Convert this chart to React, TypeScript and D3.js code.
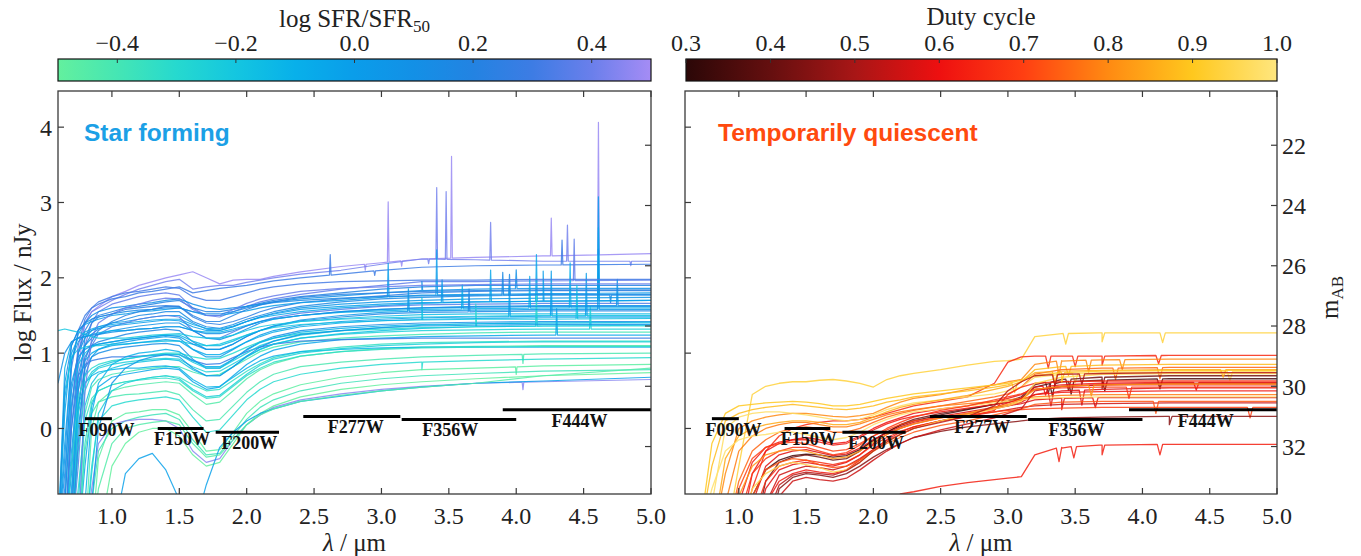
import React from "react";
import * as d3 from "d3";

// ---------------- data ----------------
const X_TICKS = [1.0, 1.5, 2.0, 2.5, 3.0, 3.5, 4.0, 4.5, 5.0];
const Y_TICKS = [0, 1, 2, 3, 4];
const MAB_TICKS = [22, 24, 26, 28, 30, 32];
const AB_ZERO = 31.4;
const SFR_TICKS = [-0.4, -0.2, 0.0, 0.2, 0.4];
const DUTY_TICKS = [0.3, 0.4, 0.5, 0.6, 0.7, 0.8, 0.9, 1.0];

const SFR_STOPS = [-0.5, -0.4, -0.3, -0.2, -0.1, 0.0, 0.1, 0.2, 0.3, 0.4, 0.5];
const SFR_STOP_COLORS = ["#63F09E", "#45E6B4", "#26D9CF", "#14C6E0", "#08B0EA", "#0A9DEA", "#1390E6", "#2383E2", "#3D7CE4", "#6A7FEB", "#A58CF5"];
const DUTY_STOPS = [0.3, 0.4, 0.5, 0.6, 0.7, 0.8, 0.9, 1.0];
const DUTY_STOP_COLORS = ["#2B0707", "#650F0F", "#A81616", "#EE1010", "#FF3F12", "#FF8A12", "#FFC81E", "#FFE67E"];

const FILTER_NAMES = ["F090W", "F150W", "F200W", "F277W", "F356W", "F444W"];
const FILTER_LO = [0.80, 1.34, 1.77, 2.42, 3.15, 3.90];
const FILTER_HI = [1.00, 1.68, 2.24, 3.14, 4.00, 5.00];
const FILTER_DEPTH = [0.13, 0.0, -0.05, 0.16, 0.12, 0.25];
const FILTER_LABEL_X = [0.96, 1.52, 2.02, 2.81, 3.51, 4.47];

// Star-forming spectra: log flux on LEFT_WAVE, coloured by log SFR/SFR50
const LEFT_WAVE = [0.60, 0.65, 0.70, 0.75, 0.80, 0.85, 0.90, 1.00, 1.10, 1.20, 1.30, 1.40, 1.50, 1.60, 1.70, 1.80, 1.90, 2.00, 2.10, 2.20, 2.40, 2.70, 3.00, 3.30, 3.70, 4.20, 5.00];
const SF_SFR = [0.48, 0.42, 0.30, 0.38, 0.20, 0.10, 0.25, 0.00, 0.15, 0.05, -0.05, 0.35, 0.08, -0.10, 0.18, -0.15, 0.00, -0.20, 0.12, -0.30, -0.25, -0.40, -0.05, 0.28, -0.35, -0.45, -0.12, -0.42, -0.30, -0.48, -0.38, 0.45, -0.50, -0.02, -0.22, -0.18, 0.02, -0.08, 0.22, 0.40, -0.20, 0.10, -0.33, -0.45, 0.00, 0.32, -0.10, 0.15, -0.25, 0.05];
const SF_FLUX = [
  [-1.5, -1.5, -1.0, 0.8, 1.4, 1.55, 1.62, 1.75, 1.82, 1.9, 1.95, 2.0, 2.04, 2.08, 2.0, 1.92, 1.97, 1.98, 1.98, 2.02, 2.08, 2.15, 2.2, 2.25, 2.27, 2.29, 2.32],
  [-1.5, -1.5, -0.5, 1.0, 1.4, 1.55, 1.6, 1.7, 1.78, 1.85, 1.9, 1.95, 1.98, 1.85, 1.88, 1.9, 1.9, 1.94, 1.97, 2.0, 2.05, 2.1, 2.18, 2.25, 2.24, 2.22, 2.22],
  [-1.5, -0.8, 0.8, 1.3, 1.5, 1.6, 1.65, 1.72, 1.75, 1.8, 1.82, 1.85, 1.88, 1.8, 1.83, 1.86, 1.88, 1.9, 1.93, 1.96, 2.0, 2.05, 2.1, 2.14, 2.16, 2.17, 2.18],
  [-1.5, -1.5, -1.5, 0.2, 1.1, 1.4, 1.55, 1.65, 1.7, 1.75, 1.78, 1.8, 1.77, 1.6, 1.5, 1.48, 1.55, 1.62, 1.68, 1.72, 1.78, 1.85, 1.9, 1.95, 1.95, 1.96, 1.97],
  [-1.5, -1.0, 0.3, 1.0, 1.3, 1.45, 1.5, 1.55, 1.6, 1.62, 1.65, 1.68, 1.7, 1.6, 1.55, 1.55, 1.58, 1.62, 1.66, 1.7, 1.75, 1.8, 1.85, 1.88, 1.9, 1.9, 1.9],
  [-1.5, -0.4, 0.9, 1.25, 1.4, 1.5, 1.55, 1.6, 1.62, 1.65, 1.67, 1.7, 1.72, 1.65, 1.6, 1.58, 1.6, 1.62, 1.65, 1.68, 1.72, 1.76, 1.8, 1.83, 1.85, 1.86, 1.86],
  [-1.5, -1.5, -1.2, 0.5, 1.2, 1.4, 1.48, 1.52, 1.58, 1.6, 1.62, 1.63, 1.62, 1.48, 1.4, 1.38, 1.42, 1.48, 1.55, 1.6, 1.67, 1.72, 1.76, 1.8, 1.82, 1.83, 1.83],
  [-1.5, 0.2, 1.1, 1.3, 1.38, 1.42, 1.45, 1.5, 1.52, 1.55, 1.56, 1.58, 1.6, 1.55, 1.5, 1.5, 1.53, 1.56, 1.6, 1.63, 1.67, 1.7, 1.74, 1.77, 1.78, 1.79, 1.8],
  [-1.5, -1.5, -0.6, 0.7, 1.1, 1.25, 1.32, 1.4, 1.45, 1.5, 1.52, 1.55, 1.55, 1.42, 1.35, 1.33, 1.38, 1.45, 1.5, 1.55, 1.62, 1.68, 1.72, 1.74, 1.76, 1.77, 1.77],
  [-1.5, -1.0, 0.5, 1.0, 1.2, 1.3, 1.35, 1.4, 1.42, 1.45, 1.48, 1.5, 1.5, 1.4, 1.32, 1.3, 1.35, 1.42, 1.48, 1.53, 1.6, 1.65, 1.68, 1.7, 1.72, 1.73, 1.74],
  [-1.5, 0.4, 1.0, 1.2, 1.28, 1.32, 1.35, 1.38, 1.4, 1.42, 1.44, 1.45, 1.45, 1.38, 1.33, 1.32, 1.36, 1.42, 1.47, 1.5, 1.55, 1.6, 1.63, 1.66, 1.68, 1.69, 1.7],
  [-1.5, -1.5, -1.5, -0.5, 0.8, 1.1, 1.25, 1.35, 1.4, 1.45, 1.48, 1.5, 1.48, 1.3, 1.2, 1.2, 1.28, 1.36, 1.42, 1.47, 1.53, 1.58, 1.62, 1.64, 1.65, 1.66, 1.66],
  [-1.5, -1.5, 0.0, 0.9, 1.1, 1.2, 1.25, 1.3, 1.33, 1.36, 1.38, 1.4, 1.4, 1.3, 1.2, 1.18, 1.24, 1.32, 1.4, 1.45, 1.5, 1.55, 1.58, 1.6, 1.62, 1.63, 1.63],
  [-1.5, 0.8, 1.15, 1.2, 1.22, 1.25, 1.27, 1.3, 1.3, 1.32, 1.33, 1.35, 1.35, 1.3, 1.28, 1.28, 1.32, 1.37, 1.42, 1.45, 1.5, 1.54, 1.56, 1.58, 1.59, 1.6, 1.6],
  [-1.5, -1.5, -0.9, 0.5, 0.95, 1.1, 1.15, 1.2, 1.25, 1.28, 1.3, 1.32, 1.3, 1.15, 1.05, 1.05, 1.12, 1.22, 1.3, 1.36, 1.43, 1.48, 1.52, 1.54, 1.55, 1.56, 1.56],
  [-1.5, -1.5, 0.3, 0.85, 1.0, 1.08, 1.12, 1.15, 1.18, 1.2, 1.22, 1.24, 1.24, 1.16, 1.1, 1.1, 1.16, 1.24, 1.3, 1.35, 1.42, 1.46, 1.49, 1.51, 1.52, 1.52, 1.52],
  [-1.5, -1.5, -1.5, 0.0, 0.7, 0.95, 1.05, 1.12, 1.15, 1.18, 1.2, 1.22, 1.2, 1.05, 0.95, 0.95, 1.05, 1.15, 1.24, 1.3, 1.37, 1.42, 1.45, 1.47, 1.48, 1.49, 1.49],
  [-1.5, 0.5, 0.95, 1.05, 1.08, 1.1, 1.1, 1.12, 1.12, 1.14, 1.15, 1.16, 1.16, 1.12, 1.1, 1.12, 1.18, 1.24, 1.3, 1.34, 1.38, 1.41, 1.43, 1.44, 1.45, 1.45, 1.46],
  [-1.5, -1.5, -1.2, 0.3, 0.8, 0.95, 1.0, 1.05, 1.08, 1.1, 1.12, 1.13, 1.1, 0.92, 0.8, 0.8, 0.92, 1.05, 1.15, 1.22, 1.3, 1.35, 1.38, 1.4, 1.41, 1.42, 1.42],
  [-1.5, -1.5, -0.5, 0.4, 0.7, 0.8, 0.85, 0.9, 0.92, 0.95, 0.98, 1.0, 1.0, 0.95, 0.92, 0.93, 1.0, 1.08, 1.15, 1.2, 1.26, 1.3, 1.32, 1.34, 1.35, 1.36, 1.36],
  [-1.5, -1.5, -1.5, -0.3, 0.5, 0.72, 0.8, 0.85, 0.88, 0.9, 0.92, 0.93, 0.92, 0.82, 0.75, 0.76, 0.86, 0.96, 1.05, 1.12, 1.2, 1.25, 1.28, 1.3, 1.31, 1.32, 1.32],
  [-1.5, -1.5, -1.5, -1.5, 0.2, 0.55, 0.65, 0.72, 0.75, 0.78, 0.8, 0.82, 0.82, 0.75, 0.7, 0.72, 0.82, 0.92, 1.02, 1.08, 1.15, 1.2, 1.23, 1.25, 1.27, 1.28, 1.28],
  [-1.5, -1.5, -1.5, -1.5, -0.5, 0.3, 0.55, 0.68, 0.72, 0.75, 0.78, 0.8, 0.78, 0.62, 0.52, 0.55, 0.7, 0.85, 0.96, 1.04, 1.12, 1.18, 1.2, 1.22, 1.23, 1.24, 1.24],
  [-1.5, -1.5, 0.0, 0.7, 0.85, 0.9, 0.92, 0.95, 0.95, 0.96, 0.97, 0.98, 0.98, 0.9, 0.85, 0.86, 0.94, 1.02, 1.08, 1.12, 1.16, 1.18, 1.19, 1.2, 1.2, 1.2, 1.2],
  [-1.5, -1.5, -1.5, -0.8, 0.1, 0.4, 0.5, 0.58, 0.62, 0.65, 0.68, 0.7, 0.68, 0.58, 0.5, 0.52, 0.64, 0.76, 0.86, 0.94, 1.02, 1.08, 1.12, 1.14, 1.15, 1.16, 1.16],
  [-1.5, -1.5, -1.5, -1.5, -1.5, 0.0, 0.35, 0.5, 0.55, 0.58, 0.6, 0.62, 0.6, 0.45, 0.32, 0.35, 0.5, 0.66, 0.78, 0.86, 0.96, 1.02, 1.06, 1.08, 1.09, 1.1, 1.1],
  [-1.5, -1.5, -0.8, 0.3, 0.6, 0.7, 0.75, 0.78, 0.8, 0.8, 0.82, 0.83, 0.8, 0.65, 0.55, 0.56, 0.68, 0.8, 0.9, 0.96, 1.02, 1.05, 1.07, 1.08, 1.08, 1.08, 1.08],
  [-1.5, -1.5, -1.5, -1.5, -0.3, 0.2, 0.35, 0.42, 0.45, 0.46, 0.48, 0.5, 0.45, 0.25, 0.1, 0.12, 0.3, 0.48, 0.62, 0.72, 0.82, 0.88, 0.92, 0.95, 0.97, 0.99, 1.0],
  [-1.5, -1.5, -1.5, -1.5, -1.5, -0.5, 0.1, 0.3, 0.35, 0.38, 0.4, 0.42, 0.38, 0.15, -0.05, -0.02, 0.18, 0.38, 0.52, 0.62, 0.72, 0.8, 0.85, 0.88, 0.9, 0.92, 0.94],
  [-1.5, -1.5, -1.5, -1.5, -1.5, -1.5, -0.4, 0.1, 0.2, 0.22, 0.25, 0.25, 0.18, -0.05, -0.3, -0.28, -0.05, 0.2, 0.36, 0.46, 0.58, 0.68, 0.74, 0.78, 0.8, 0.83, 0.85],
  [-1.5, -1.5, -1.5, -1.5, -1.5, -1.0, -0.3, 0.0, 0.1, 0.15, 0.18, 0.2, 0.12, -0.15, -0.35, -0.33, -0.1, 0.12, 0.28, 0.38, 0.5, 0.6, 0.66, 0.7, 0.73, 0.76, 0.78],
  [-1.5, -1.5, -1.5, -1.5, -1.5, -0.8, -0.2, 0.05, 0.1, 0.12, 0.12, 0.1, 0.0, -0.3, -0.45, -0.4, -0.15, 0.05, 0.18, 0.28, 0.38, 0.46, 0.52, 0.56, 0.6, 0.62, 0.65],
  [-1.5, -1.5, -1.5, -1.5, -1.5, -1.5, -1.5, -0.5, -0.2, -0.05, 0.0, 0.0, -0.1, -0.35, -0.5, -0.45, -0.2, 0.05, 0.2, 0.3, 0.42, 0.52, 0.58, 0.62, 0.66, 0.7, 0.74],
  [-1.5, -1.5, -1.5, -1.5, -1.5, -1.5, -1.5, -1.5, -0.6, -0.4, -0.33, -0.55, -0.95, -1.4, -0.75, -0.25, -0.05, 0.1, 0.2, 0.26, 0.36, 0.43, 0.5, 0.55, 0.6, 0.63, 0.68],
  [-1.5, -1.5, -1.5, 0.2, 0.6, 0.75, 0.82, 0.88, 0.92, 0.95, 0.97, 0.99, 0.98, 0.88, 0.8, 0.8, 0.9, 1.0, 1.1, 1.16, 1.24, 1.3, 1.34, 1.37, 1.39, 1.4, 1.41],
  [-1.5, -1.5, -1.5, -1.0, 0.3, 0.6, 0.72, 0.8, 0.85, 0.88, 0.9, 0.92, 0.9, 0.78, 0.7, 0.7, 0.82, 0.95, 1.05, 1.12, 1.2, 1.26, 1.3, 1.33, 1.35, 1.36, 1.37],
  [-1.5, -0.6, 0.6, 0.95, 1.05, 1.1, 1.12, 1.15, 1.18, 1.2, 1.22, 1.24, 1.22, 1.12, 1.05, 1.05, 1.12, 1.22, 1.3, 1.36, 1.44, 1.5, 1.54, 1.56, 1.57, 1.58, 1.58],
  [-1.5, -1.5, -0.3, 0.6, 0.9, 1.0, 1.05, 1.1, 1.12, 1.14, 1.16, 1.18, 1.16, 1.05, 0.98, 0.98, 1.06, 1.15, 1.22, 1.28, 1.35, 1.4, 1.43, 1.45, 1.46, 1.47, 1.47],
  [-1.5, -1.5, -1.5, -0.2, 0.9, 1.15, 1.3, 1.42, 1.5, 1.55, 1.58, 1.62, 1.62, 1.5, 1.42, 1.42, 1.5, 1.58, 1.64, 1.68, 1.74, 1.78, 1.8, 1.82, 1.83, 1.84, 1.84],
  [-1.5, -1.5, -1.5, -1.5, 0.5, 1.2, 1.4, 1.52, 1.6, 1.65, 1.7, 1.73, 1.72, 1.58, 1.5, 1.5, 1.58, 1.66, 1.72, 1.76, 1.82, 1.86, 1.88, 1.9, 1.91, 1.92, 1.92],
  [1.3, 1.32, 1.3, 1.28, 1.25, 1.22, 1.2, 1.2, 1.2, 1.22, 1.24, 1.25, 1.26, 1.22, 1.2, 1.2, 1.24, 1.3, 1.35, 1.38, 1.42, 1.45, 1.47, 1.48, 1.49, 1.5, 1.5],
  [0.6, 1.0, 1.15, 1.2, 1.22, 1.24, 1.25, 1.28, 1.3, 1.32, 1.33, 1.35, 1.35, 1.3, 1.26, 1.26, 1.3, 1.36, 1.42, 1.46, 1.5, 1.55, 1.58, 1.6, 1.61, 1.62, 1.62],
  [-1.5, -1.5, -1.5, -1.5, -0.2, 0.35, 0.5, 0.58, 0.62, 0.64, 0.66, 0.67, 0.64, 0.5, 0.4, 0.42, 0.56, 0.7, 0.8, 0.88, 0.96, 1.02, 1.05, 1.07, 1.08, 1.09, 1.09],
  [-1.5, -1.5, -1.5, -1.5, -1.5, -1.5, -0.8, -0.2, 0.0, 0.05, 0.08, 0.1, 0.05, -0.2, -0.38, -0.35, -0.15, 0.05, 0.18, 0.26, 0.36, 0.44, 0.5, 0.55, 0.6, 0.7, 0.8],
  [-1.5, -0.2, 0.9, 1.15, 1.25, 1.3, 1.33, 1.36, 1.38, 1.4, 1.42, 1.44, 1.43, 1.35, 1.3, 1.3, 1.35, 1.42, 1.48, 1.52, 1.58, 1.62, 1.65, 1.67, 1.68, 1.69, 1.7],
  [-1.5, -1.5, 0.2, 1.1, 1.45, 1.6, 1.68, 1.75, 1.8, 1.82, 1.85, 1.88, 1.86, 1.75, 1.7, 1.7, 1.75, 1.8, 1.85, 1.88, 1.92, 1.95, 1.96, 1.97, 1.97, 1.98, 1.98],
  [-1.5, -1.5, -1.5, -1.5, -1.0, 0.2, 0.6, 0.85, 0.95, 1.0, 1.02, 1.05, 1.02, 0.9, 0.82, 0.82, 0.92, 1.04, 1.14, 1.2, 1.28, 1.33, 1.36, 1.38, 1.39, 1.4, 1.4],
  [-1.5, 0.6, 1.1, 1.3, 1.4, 1.45, 1.48, 1.52, 1.55, 1.57, 1.58, 1.6, 1.6, 1.55, 1.52, 1.52, 1.55, 1.6, 1.64, 1.67, 1.7, 1.73, 1.75, 1.76, 1.77, 1.78, 1.78],
  [-1.5, -1.5, -1.5, -1.5, -1.5, -0.6, 0.2, 0.5, 0.6, 0.65, 0.68, 0.7, 0.66, 0.52, 0.42, 0.44, 0.58, 0.72, 0.84, 0.92, 1.0, 1.06, 1.1, 1.12, 1.14, 1.15, 1.15],
  [-1.5, -1.5, -1.5, -1.5, -1.5, -1.0, 0.0, 0.6, 0.8, 0.9, 0.95, 0.98, 0.95, 0.8, 0.7, 0.7, 0.82, 0.96, 1.08, 1.16, 1.25, 1.3, 1.34, 1.36, 1.37, 1.38, 1.38],
];
// narrow spectral features: [spectrum index, wavelength, height above (+) or below (-) continuum]
const SF_FEATURES = [
  [0, 3.05, 0.8], [0, 3.52, 1.35], [0, 4.26, 0.5], [0, 4.61, 1.76], [0, 2.88, -0.08], [0, 3.15, -0.07],
  [1, 3.41, 0.95], [1, 3.48, 0.9], [1, 3.81, 0.5], [1, 4.38, 0.48], [1, 3.35, -0.06], [1, 4.85, -0.06],
  [2, 2.62, 0.27], [2, 4.34, 0.33], [2, 2.95, -0.06],
  [7, 3.05, 0.45], [7, 3.41, 0.6], [7, 4.61, 1.28], [10, 3.81, 0.42], [10, 4.15, 0.62], [10, 4.61, 0.97],
  [13, 4.10, 0.42], [13, 4.40, 0.6], [13, 3.60, 0.32], [3, 4.43, 0.55], [16, 3.95, 0.42], [16, 4.52, 0.57],
  [16, 4.26, 0.6], [19, 4.15, 0.4], [19, 3.70, 0.3], [17, 4.45, 0.45], [17, 3.30, 0.3], [5, 3.30, 0.12],
  [5, 4.00, 0.25], [36, 4.61, 0.8], [36, 3.20, 0.3], [22, 4.30, 0.35], [8, 3.95, 0.28], [8, 4.70, -0.1],
  [27, 4.05, -0.12], [31, 4.05, -0.1], [28, 3.30, -0.1], [44, 3.45, 0.3], [44, 4.20, 0.4], [47, 3.90, 0.3],
  [12, 4.75, 0.35], [14, 3.65, 0.3], [20, 4.55, 0.3], [29, 4.00, -0.1],
];

// Temporarily quiescent spectra: log flux on RIGHT_WAVE, coloured by duty cycle
const RIGHT_WAVE = [0.70, 0.80, 0.90, 1.00, 1.10, 1.20, 1.30, 1.40, 1.50, 1.60, 1.70, 1.80, 1.90, 2.00, 2.10, 2.20, 2.30, 2.50, 2.70, 2.90, 3.00, 3.10, 3.20, 3.40, 3.70, 4.20, 5.00];
const TQ_DUTY = [0.93, 0.65, 0.80, 0.88, 0.75, 0.97, 0.42, 0.35, 0.60, 0.58, 0.62, 0.78, 0.58, 0.55, 0.70, 0.45, 0.63, 0.85, 0.66, 0.98, 0.68, 0.62, 0.73, 0.95, 0.90, 0.55, 0.82, 0.52];
const TQ_FLUX = [
  [-1.5, -1.5, -1.5, -0.5, 0.45, 0.56, 0.6, 0.62, 0.62, 0.64, 0.65, 0.63, 0.6, 0.55, 0.65, 0.7, 0.73, 0.78, 0.84, 0.89, 0.9, 0.92, 1.22, 1.26, 1.27, 1.27, 1.27],
  [-1.5, -1.5, -1.5, -1.5, -0.8, -0.3, -0.1, 0.0, 0.05, 0.08, 0.1, 0.1, 0.12, 0.15, 0.2, 0.25, 0.3, 0.36, 0.42, 0.6, 0.88, 0.95, 0.96, 0.96, 0.96, 0.97, 0.97],
  [-1.5, -1.5, -0.6, 0.0, 0.1, 0.15, 0.18, 0.2, 0.2, 0.18, 0.16, 0.15, 0.17, 0.2, 0.28, 0.35, 0.4, 0.45, 0.52, 0.58, 0.62, 0.65, 0.85, 0.9, 0.91, 0.92, 0.92],
  [-1.5, -0.5, 0.1, 0.2, 0.25, 0.28, 0.3, 0.32, 0.3, 0.28, 0.26, 0.25, 0.27, 0.3, 0.35, 0.38, 0.42, 0.46, 0.5, 0.55, 0.58, 0.62, 0.78, 0.82, 0.84, 0.85, 0.85],
  [-1.5, -1.5, -1.5, -0.7, -0.3, -0.15, -0.05, 0.0, 0.02, 0.0, -0.05, -0.05, 0.0, 0.08, 0.15, 0.2, 0.24, 0.3, 0.36, 0.42, 0.46, 0.55, 0.72, 0.78, 0.8, 0.81, 0.81],
  [-1.5, -1.0, 0.0, 0.15, 0.2, 0.22, 0.22, 0.2, 0.18, 0.15, 0.12, 0.1, 0.12, 0.18, 0.25, 0.3, 0.34, 0.38, 0.42, 0.46, 0.5, 0.55, 0.68, 0.72, 0.74, 0.75, 0.76],
  [-1.5, -1.5, -1.5, -1.5, -1.5, -0.7, -0.45, -0.38, -0.35, -0.38, -0.42, -0.4, -0.3, -0.15, -0.05, 0.05, 0.12, 0.2, 0.26, 0.32, 0.36, 0.42, 0.58, 0.65, 0.68, 0.7, 0.7],
  [-1.5, -1.5, -1.5, -1.5, -0.9, -0.55, -0.42, -0.36, -0.34, -0.35, -0.38, -0.36, -0.28, -0.16, -0.05, 0.04, 0.1, 0.18, 0.25, 0.32, 0.35, 0.4, 0.55, 0.62, 0.64, 0.66, 0.66],
  [-1.5, -1.5, -1.5, -1.5, -0.6, -0.3, -0.2, -0.15, -0.12, -0.15, -0.2, -0.18, -0.1, 0.0, 0.08, 0.14, 0.2, 0.26, 0.3, 0.36, 0.4, 0.45, 0.55, 0.58, 0.6, 0.61, 0.61],
  [-1.5, -1.5, -1.5, -1.5, -1.5, -0.8, -0.55, -0.48, -0.45, -0.48, -0.5, -0.45, -0.35, -0.2, -0.08, 0.0, 0.06, 0.14, 0.2, 0.26, 0.3, 0.35, 0.45, 0.5, 0.52, 0.54, 0.54],
  [-1.5, -1.5, -1.5, -1.0, -0.45, -0.25, -0.18, -0.15, -0.15, -0.18, -0.22, -0.2, -0.12, -0.02, 0.06, 0.12, 0.16, 0.22, 0.27, 0.32, 0.35, 0.38, 0.45, 0.48, 0.49, 0.5, 0.5],
  [-1.5, -1.5, -1.0, -0.3, -0.1, 0.0, 0.05, 0.08, 0.08, 0.05, 0.02, 0.02, 0.06, 0.12, 0.18, 0.22, 0.25, 0.3, 0.33, 0.36, 0.38, 0.4, 0.42, 0.44, 0.45, 0.45, 0.45],
  [-1.5, -1.5, -1.5, -1.5, -1.0, -0.5, -0.35, -0.3, -0.28, -0.32, -0.36, -0.34, -0.26, -0.15, -0.06, 0.02, 0.08, 0.16, 0.22, 0.28, 0.3, 0.33, 0.38, 0.4, 0.41, 0.41, 0.41],
  [-1.5, -1.5, -1.5, -1.5, -1.5, -1.0, -0.62, -0.55, -0.5, -0.52, -0.55, -0.5, -0.4, -0.28, -0.16, -0.08, 0.0, 0.1, 0.16, 0.22, 0.25, 0.28, 0.3, 0.32, 0.33, 0.34, 0.34],
  [-1.5, -1.5, -1.5, -0.8, -0.4, -0.25, -0.2, -0.18, -0.2, -0.25, -0.3, -0.28, -0.2, -0.1, -0.02, 0.05, 0.1, 0.15, 0.18, 0.22, 0.24, 0.25, 0.26, 0.27, 0.28, 0.28, 0.28],
  [-1.5, -1.5, -1.5, -1.5, -1.5, -1.5, -0.8, -0.65, -0.6, -0.62, -0.65, -0.6, -0.5, -0.38, -0.28, -0.2, -0.12, -0.04, 0.02, 0.06, 0.08, 0.1, 0.12, 0.14, 0.15, 0.16, 0.16],
  [-1.5, -1.5, -1.5, -1.5, -1.5, -1.5, -1.5, -1.5, -1.5, -1.5, -1.5, -1.5, -1.5, -1.5, -1.5, -0.87, -0.84, -0.77, -0.72, -0.68, -0.66, -0.64, -0.35, -0.25, -0.22, -0.21, -0.21],
  [-1.5, -1.5, -0.4, -0.1, 0.0, 0.05, 0.08, 0.1, 0.1, 0.08, 0.05, 0.05, 0.08, 0.15, 0.22, 0.28, 0.32, 0.38, 0.44, 0.52, 0.56, 0.62, 0.74, 0.76, 0.77, 0.78, 0.78],
  [-1.5, -1.5, -1.5, -1.5, -1.2, -0.7, -0.5, -0.45, -0.42, -0.45, -0.48, -0.44, -0.35, -0.22, -0.12, -0.04, 0.02, 0.1, 0.16, 0.24, 0.45, 0.55, 0.6, 0.62, 0.63, 0.63, 0.63],
  [-1.5, -0.8, -0.3, -0.15, -0.1, -0.08, -0.05, -0.05, -0.08, -0.12, -0.15, -0.12, -0.05, 0.05, 0.12, 0.18, 0.22, 0.26, 0.3, 0.34, 0.36, 0.38, 0.4, 0.41, 0.42, 0.42, 0.42],
  [-1.5, -1.5, -1.5, -1.2, -0.6, -0.4, -0.3, -0.25, -0.25, -0.3, -0.35, -0.32, -0.22, -0.1, 0.0, 0.08, 0.15, 0.24, 0.3, 0.38, 0.42, 0.46, 0.52, 0.54, 0.55, 0.55, 0.55],
  [-1.5, -1.5, -1.5, -1.5, -1.5, -1.0, -0.7, -0.6, -0.55, -0.58, -0.6, -0.55, -0.42, -0.28, -0.15, -0.05, 0.02, 0.1, 0.18, 0.28, 0.34, 0.4, 0.52, 0.56, 0.58, 0.58, 0.58],
  [-1.5, -1.5, -1.5, -1.5, -0.9, -0.55, -0.45, -0.4, -0.42, -0.48, -0.52, -0.5, -0.42, -0.3, -0.2, -0.12, -0.05, 0.04, 0.1, 0.18, 0.22, 0.26, 0.32, 0.35, 0.36, 0.36, 0.36],
  [-1.5, -1.5, -1.5, -1.5, -0.8, -0.6, -0.5, -0.45, -0.48, -0.52, -0.58, -0.55, -0.45, -0.3, -0.18, -0.08, 0.0, 0.1, 0.18, 0.26, 0.3, 0.36, 0.6, 0.68, 0.72, 0.73, 0.73],
  [-1.5, -0.2, 0.2, 0.3, 0.32, 0.34, 0.35, 0.36, 0.35, 0.33, 0.3, 0.3, 0.32, 0.36, 0.4, 0.43, 0.46, 0.5, 0.54, 0.58, 0.6, 0.64, 0.7, 0.74, 0.76, 0.77, 0.77],
  [-1.5, -1.5, -1.5, -1.5, -1.5, -1.5, -0.9, -0.7, -0.65, -0.68, -0.7, -0.66, -0.55, -0.42, -0.3, -0.2, -0.12, -0.02, 0.06, 0.14, 0.2, 0.26, 0.5, 0.56, 0.58, 0.6, 0.6],
  [-1.5, -1.5, -1.5, -0.9, -0.5, -0.35, -0.3, -0.28, -0.3, -0.35, -0.4, -0.38, -0.3, -0.18, -0.08, 0.0, 0.06, 0.14, 0.2, 0.28, 0.32, 0.38, 0.52, 0.56, 0.58, 0.59, 0.59],
  [-1.5, -1.5, -1.5, -1.5, -1.5, -1.2, -0.75, -0.62, -0.58, -0.6, -0.62, -0.56, -0.45, -0.3, -0.18, -0.08, 0.0, 0.08, 0.16, 0.3, 0.5, 0.62, 0.7, 0.72, 0.73, 0.74, 0.74],
];
// absorption features: [spectrum index, wavelength, depth below continuum]
const TQ_DIPS = [
  [0, 3.43, 0.14], [0, 3.70, 0.12], [0, 4.15, 0.13],
  [1, 3.30, 0.16], [1, 3.50, 0.14], [1, 3.70, 0.12], [1, 4.12, 0.11],
  [16, 3.38, 0.18], [16, 3.49, 0.15], [16, 3.70, 0.13], [16, 4.13, 0.14],
  [14, 4.80, 0.14], [2, 3.38, 0.18], [2, 3.60, 0.16], [2, 3.85, 0.13],
  [6, 3.30, 0.15], [6, 3.45, 0.15], [6, 3.70, 0.15],
  [7, 3.33, 0.16], [7, 3.47, 0.17], [7, 3.72, 0.14], [7, 4.13, 0.13],
  [9, 3.32, 0.18], [9, 3.55, 0.2], [4, 3.80, 0.15], [4, 4.13, 0.15],
  [12, 3.40, 0.15], [12, 3.65, 0.13], [22, 4.10, 0.16], [15, 4.20, 0.11], [20, 3.90, 0.15],
  [3, 3.05, 0.12], [3, 3.45, 0.12], [17, 3.35, 0.15], [17, 4.60, 0.1], [5, 4.65, 0.12], [5, 3.50, 0.12],
  [8, 3.28, 0.12], [8, 4.40, 0.1], [27, 3.35, 0.15], [27, 3.55, 0.14], [24, 3.40, 0.12], [26, 3.62, 0.14],
];

// ---------------- layout ----------------
const SERIF = "'Liberation Serif', 'Times New Roman', serif";
const SANS = "'Liberation Sans', Arial, sans-serif";
const TOP = 91, BOTTOM = 494;
const LX0 = 58, LX1 = 651, RX0 = 685, RX1 = 1277;
const CB_TOP = 59, CB_H = 22;
const TICK_FS = 24;

function withFeatures(wave: number[], row: number[], feats: number[][], idx: number, halfWidth: number) {
  const pts: [number, number][] = wave.map((w, i) => [w, row[i]]);
  feats.filter((f) => f[0] === idx).forEach((f) => {
    const lam = f[1];
    const j = d3.bisectLeft(wave, lam);
    if (j <= 0 || j >= wave.length) return;
    const t = (lam - wave[j - 1]) / (wave[j] - wave[j - 1]);
    const base = row[j - 1] + t * (row[j] - row[j - 1]);
    pts.push([lam - halfWidth, base], [lam, base + f[2]], [lam + halfWidth, base]);
  });
  pts.sort((a, b) => a[0] - b[0]);
  return pts;
}

export default function App() {
  const y = d3.scaleLinear().domain([-0.87, 4.48]).range([BOTTOM, TOP]);
  const xL = d3.scaleLinear().domain([0.6, 5.0]).range([LX0, LX1]);
  const xR = d3.scaleLinear().domain([0.6, 5.0]).range([RX0, RX1]);
  const cbL = d3.scaleLinear().domain([-0.5, 0.5]).range([LX0, LX1]);
  const cbR = d3.scaleLinear().domain([0.3, 1.0]).range([RX0 + 1, RX1]);
  const sfrColor = d3.scaleLinear<string>().domain(SFR_STOPS).range(SFR_STOP_COLORS).interpolate(d3.interpolateRgb);
  const dutyColor = d3.scaleLinear<string>().domain(DUTY_STOPS).range(DUTY_STOP_COLORS).interpolate(d3.interpolateRgb);
  const magY = (m: number) => y((AB_ZERO - m) / 2.5);
  const fmt1 = d3.format(".1f");

  const lineL = d3.line<[number, number]>().x((d) => xL(d[0])).y((d) => y(d[1]));
  const lineR = d3.line<[number, number]>().x((d) => xR(d[0])).y((d) => y(d[1]));

  const panel = (x: d3.ScaleLinear<number, number>, x0: number, x1: number, leftLabels: boolean) => (
    <g>
      <rect x={x0} y={TOP} width={x1 - x0} height={BOTTOM - TOP} fill="none" stroke="#3a3a3a" strokeWidth={1.3} />
      {X_TICKS.map((t) => (
        <g key={"xt" + t}>
          <line x1={x(t)} x2={x(t)} y1={BOTTOM} y2={BOTTOM - 6} stroke="#3a3a3a" strokeWidth={1.2} />
          <line x1={x(t)} x2={x(t)} y1={TOP} y2={TOP + 6} stroke="#3a3a3a" strokeWidth={1.2} />
          <text x={x(t)} y={524} textAnchor="middle" fontFamily={SERIF} fontSize={TICK_FS} fill="#222">{fmt1(t)}</text>
        </g>
      ))}
      {Y_TICKS.map((t) => (
        <g key={"yt" + t}>
          <line x1={x0} x2={x0 + 6} y1={y(t)} y2={y(t)} stroke="#3a3a3a" strokeWidth={1.2} />
          {leftLabels && (
            <text x={x0 - 6} y={y(t)} dy="0.35em" textAnchor="end" fontFamily={SERIF} fontSize={TICK_FS} fill="#222">{t}</text>
          )}
        </g>
      ))}
      {MAB_TICKS.map((m) => (
        <g key={"mt" + m}>
          <line x1={x1} x2={x1 - 6} y1={magY(m)} y2={magY(m)} stroke="#3a3a3a" strokeWidth={1.2} />
          {!leftLabels && (
            <text x={x1 + 5} y={magY(m)} dy="0.35em" textAnchor="start" fontFamily={SERIF} fontSize={TICK_FS} fill="#222">{m}</text>
          )}
        </g>
      ))}
      <text x={(x0 + x1) / 2} y={551} textAnchor="middle" fontFamily={SERIF} fontSize={25} fill="#222">
        <tspan fontStyle="italic">λ</tspan>
        <tspan> / μm</tspan>
      </text>
    </g>
  );

  const filters = (x: d3.ScaleLinear<number, number>) => (
    <g>
      {FILTER_NAMES.map((name, i) => (
        <g key={name}>
          <line x1={x(FILTER_LO[i])} x2={x(FILTER_HI[i])} y1={y(FILTER_DEPTH[i])} y2={y(FILTER_DEPTH[i])} stroke="#000" strokeWidth={3} />
          <text x={x(FILTER_LABEL_X[i])} y={y(FILTER_DEPTH[i]) + 17} textAnchor="middle" fontFamily={SERIF} fontWeight="bold" fontSize={18} fill="#111">{name}</text>
        </g>
      ))}
    </g>
  );

  return (
    <svg width={1361} height={556} viewBox="0 0 1361 556" style={{ position: "absolute", left: 0, top: 0, background: "#fff" }}>
      <defs>
        <clipPath id="clipL"><rect x={LX0} y={TOP} width={LX1 - LX0} height={BOTTOM - TOP} /></clipPath>
        <clipPath id="clipR"><rect x={RX0} y={TOP} width={RX1 - RX0} height={BOTTOM - TOP} /></clipPath>
        <linearGradient id="gradSFR" x1="0" x2="1" y1="0" y2="0">
          {SFR_STOPS.map((s, i) => (
            <stop key={i} offset={(s + 0.5) / 1.0} stopColor={SFR_STOP_COLORS[i]} />
          ))}
        </linearGradient>
        <linearGradient id="gradDuty" x1="0" x2="1" y1="0" y2="0">
          {DUTY_STOPS.map((s, i) => (
            <stop key={i} offset={(s - 0.3) / 0.7} stopColor={DUTY_STOP_COLORS[i]} />
          ))}
        </linearGradient>
      </defs>
      <rect x={0} y={0} width={1361} height={556} fill="#fff" />

      <g clipPath="url(#clipL)">
        {SF_FLUX.map((row, i) => (
          <path key={"sf" + i} d={lineL(withFeatures(LEFT_WAVE, row, SF_FEATURES, i, 0.006)) || ""} fill="none" stroke={sfrColor(SF_SFR[i])} strokeWidth={1.2} strokeOpacity={0.85} strokeLinejoin="round" />
        ))}
      </g>
      <g clipPath="url(#clipR)">
        {TQ_FLUX.map((row, i) => (
          <path key={"tq" + i} d={lineR(withFeatures(RIGHT_WAVE, row, TQ_DIPS.map((f) => [f[0], f[1], -f[2]]), i, 0.02)) || ""} fill="none" stroke={dutyColor(TQ_DUTY[i])} strokeWidth={1.3} strokeOpacity={0.85} strokeLinejoin="round" />
        ))}
      </g>

      {filters(xL)}
      {filters(xR)}
      {panel(xL, LX0, LX1, true)}
      {panel(xR, RX0, RX1, false)}

      <text x={84} y={141} fontFamily={SANS} fontWeight="bold" fontSize={24.5} fill="#1BA0E6">Star forming</text>
      <text x={718} y={141} fontFamily={SANS} fontWeight="bold" fontSize={24.5} fill="#FF4A0E">Temporarily quiescent</text>

      <text transform={`translate(31,${(TOP + BOTTOM) / 2}) rotate(-90)`} textAnchor="middle" fontFamily={SERIF} fontSize={25} fill="#222">log Flux / nJy</text>
      <text transform={`translate(1338,${(TOP + BOTTOM) / 2 + 5}) rotate(-90)`} textAnchor="middle" fontFamily={SERIF} fontSize={25} fill="#222">
        m<tspan fontSize={17} dy={5}>AB</tspan>
      </text>

      <rect x={LX0} y={CB_TOP} width={LX1 - LX0} height={CB_H} fill="url(#gradSFR)" stroke="#111" strokeWidth={1.2} />
      {SFR_TICKS.map((t) => (
        <g key={"cs" + t}>
          <line x1={cbL(t)} x2={cbL(t)} y1={CB_TOP} y2={CB_TOP + 4} stroke="#333" strokeWidth={1} />
          <text x={cbL(t)} y={51} textAnchor="middle" fontFamily={SERIF} fontSize={TICK_FS} fill="#222">{fmt1(t)}</text>
        </g>
      ))}
      <text x={(LX0 + LX1) / 2} y={27} textAnchor="middle" fontFamily={SERIF} fontSize={25} fill="#222">
        log SFR/SFR<tspan fontSize={17} dy={5}>50</tspan>
      </text>

      <rect x={RX0 + 1} y={CB_TOP} width={RX1 - RX0 - 1} height={CB_H} fill="url(#gradDuty)" stroke="#111" strokeWidth={1.2} />
      {DUTY_TICKS.map((t) => (
        <g key={"cd" + t}>
          <line x1={cbR(t)} x2={cbR(t)} y1={CB_TOP} y2={CB_TOP + 4} stroke="#333" strokeWidth={1} />
          <text x={cbR(t)} y={51} textAnchor="middle" fontFamily={SERIF} fontSize={TICK_FS} fill="#222">{fmt1(t)}</text>
        </g>
      ))}
      <text x={(RX0 + RX1) / 2} y={25} textAnchor="middle" fontFamily={SERIF} fontSize={25} fill="#222">Duty cycle</text>
    </svg>
  );
}
